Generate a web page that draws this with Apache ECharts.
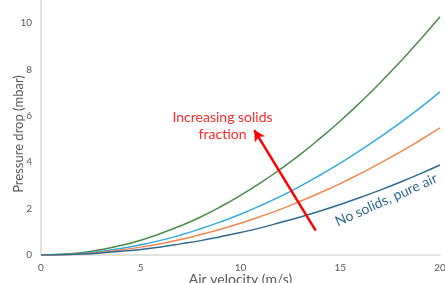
<!DOCTYPE html>
<html>
<head>
<meta charset="utf-8">
<script src="https://cdn.jsdelivr.net/npm/echarts@6/dist/echarts.min.js"></script>
<style>
html, body { margin: 0; padding: 0; background: #fff; }
#chart { width: 445px; height: 283px; }
</style>
</head>
<body>
<div id="chart"></div>
<script>
var velocity = [0, 1, 2, 3, 4, 5, 6, 7, 8, 9, 10, 11, 12, 13, 14, 15, 16, 17, 18, 19, 20];
var highSolids = [0, 0.03, 0.10, 0.23, 0.41, 0.64, 0.93, 1.26, 1.64, 2.08, 2.57, 3.11, 3.70, 4.34, 5.04, 5.78, 6.58, 7.43, 8.33, 9.28, 10.28];
var midSolids = [0, 0.02, 0.07, 0.16, 0.28, 0.44, 0.63, 0.86, 1.13, 1.43, 1.76, 2.13, 2.53, 2.97, 3.45, 3.96, 4.51, 5.09, 5.70, 6.35, 7.04];
var lowSolids = [0, 0.01, 0.05, 0.12, 0.22, 0.34, 0.49, 0.67, 0.88, 1.11, 1.37, 1.66, 1.97, 2.32, 2.69, 3.08, 3.51, 3.96, 4.44, 4.95, 5.48];
var pureAir = [0, 0.01, 0.04, 0.09, 0.16, 0.24, 0.35, 0.48, 0.62, 0.79, 0.97, 1.17, 1.40, 1.64, 1.90, 2.18, 2.48, 2.80, 3.14, 3.50, 3.88];
var xTicks = [0, 5, 10, 15, 20];
var yTicks = [0, 2, 4, 6, 8, 10];

var pairs = function(ys) {
	return velocity.map(function(v, i) { return [v, ys[i]]; });
};
var line = function(name, ys, color) {
	return {
		name: name,
		type: 'line',
		data: pairs(ys),
		showSymbol: false,
		smooth: true,
		lineStyle: { color: color, width: 1.5 },
		z: 2
	};
};

var chart = echarts.init(document.getElementById('chart'));
var font = 'Lato, "Open Sans", sans-serif';
var option = {
	animation: false,
	grid: { left: 41, right: 5, top: 0, bottom: 28, containLabel: false, outerBoundsMode: 'none' },
	xAxis: {
		type: 'value',
		min: 0,
		max: 20,
		interval: 5,
		name: 'Air velocity (m/s)',
		nameLocation: 'middle',
		nameGap: 17,
		nameMoveOverlap: false,
		nameTextStyle: { color: '#595959', fontSize: 14, fontFamily: font },
		axisLine: { show: true, lineStyle: { color: '#d9d9d9', width: 1.5 } },
		axisTick: { show: false },
		splitLine: { show: false },
		axisLabel: {
			color: '#595959', fontSize: 10, fontFamily: font, margin: 8,
			formatter: function(v) { return xTicks.indexOf(v) >= 0 ? String(v) : ''; }
		}
	},
	yAxis: {
		type: 'value',
		min: 0,
		max: 11,
		interval: 2,
		name: 'Pressure drop (mbar)',
		nameLocation: 'middle',
		nameGap: 16,
		nameMoveOverlap: false,
		nameTextStyle: { color: '#595959', fontSize: 13, fontFamily: font, padding: [0, 13, 0, 0] },
		axisLine: { show: true, lineStyle: { color: '#d9d9d9', width: 1.5 } },
		axisTick: { show: false },
		splitLine: { show: false },
		axisLabel: {
			color: '#595959', fontSize: 10, fontFamily: font, margin: 9, showMaxLabel: false,
			formatter: function(v) { return yTicks.indexOf(v) >= 0 ? String(v) : ''; }
		}
	},
	series: [
		line('high', highSolids, '#4a8a4a'),
		line('mid', midSolids, '#35a9e1'),
		line('low', lowSolids, '#f4874f'),
		line('air', pureAir, '#2f6b8c'),
		{
			type: 'line',
			data: [],
			markLine: {
				silent: true,
				symbol: ['none', 'arrow'],
				symbolSize: [9, 11],
				label: { show: false },
				lineStyle: { color: '#ff0000', width: 2.5, type: 'solid' },
				data: [[{ coord: [13.77, 1.05] }, { coord: [10.69, 5.39] }]]
			},
			z: 3
		}
	]
};
chart.setOption(option);

var p1 = chart.convertToPixel({ gridIndex: 0 }, [9.1, 5.55]);
var p2 = chart.convertToPixel({ gridIndex: 0 }, [17.3, 2.37]);
chart.setOption({
	graphic: [{
		type: 'text',
		x: p1[0],
		y: p1[1],
		style: {
			text: 'Increasing solids\nfraction',
			fill: '#ff2a2a',
			font: '14px ' + font,
			align: 'center',
			verticalAlign: 'middle',
			lineHeight: 17
		}
	}, {
		type: 'text',
		x: p2[0],
		y: p2[1],
		rotation: 24 * Math.PI / 180,
		style: {
			text: 'No solids, pure air',
			fill: '#2f6b8c',
			font: '14px ' + font,
			align: 'center',
			verticalAlign: 'middle'
		}
	}]
});
</script>
</body>
</html>
